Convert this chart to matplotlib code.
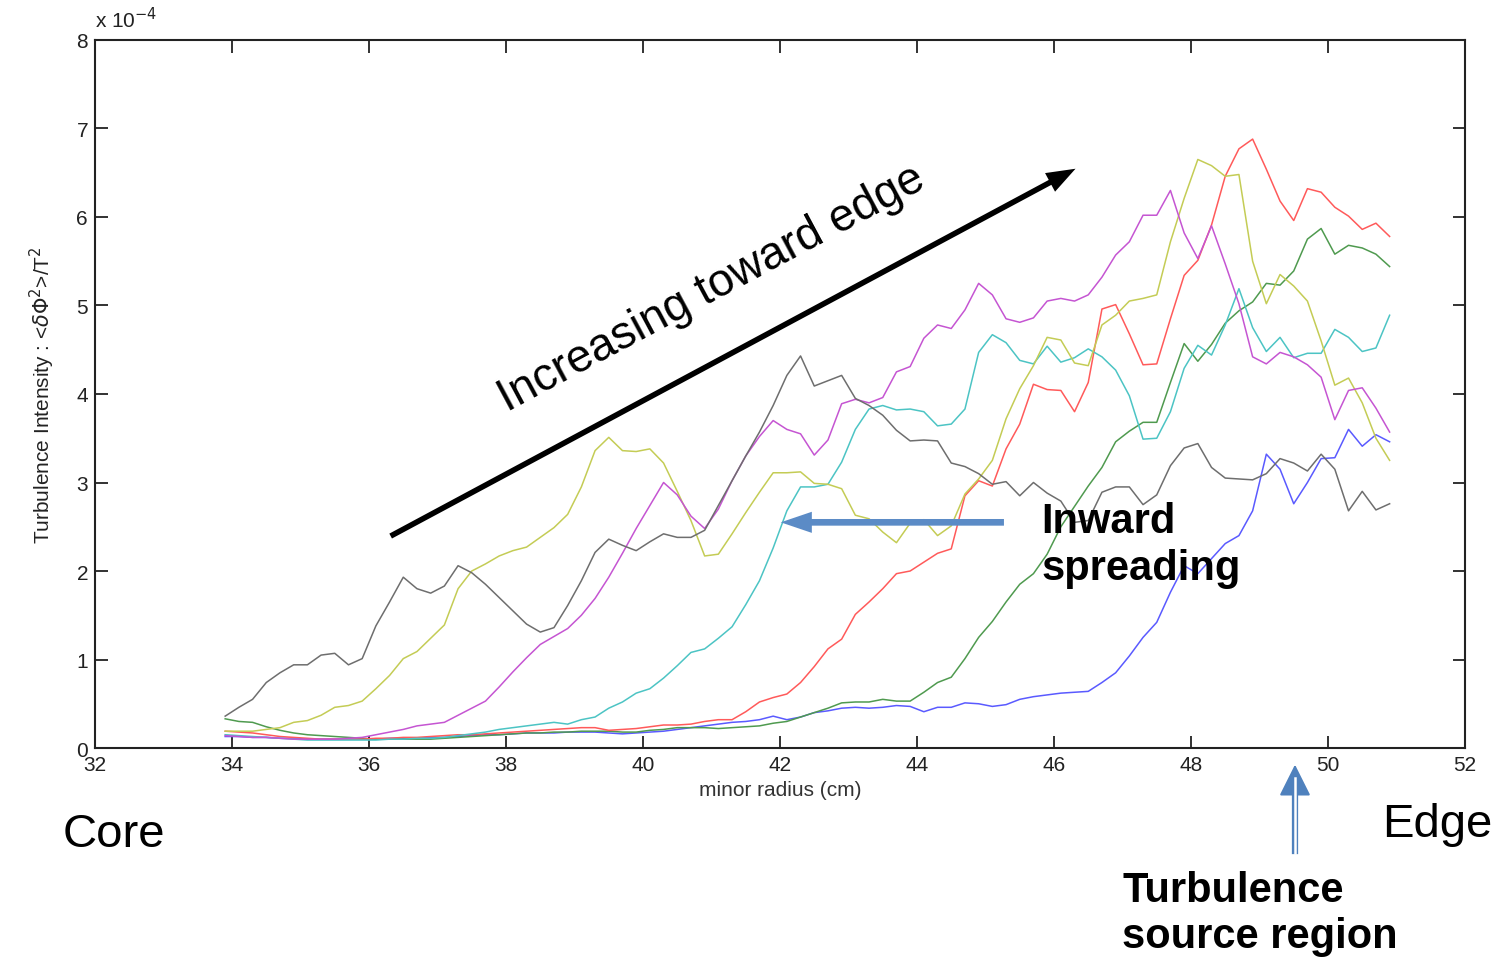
import numpy as np
import matplotlib
matplotlib.use("Agg")
import matplotlib.pyplot as plt
from matplotlib.patches import FancyArrowPatch
from matplotlib.lines import Line2D

# radial positions (cm), one sample every 0.2 cm
radius = np.linspace(33.9, 50.9, 86)

# turbulence intensity profiles (x 1e-4)
gray = [0.36, 0.46, 0.55, 0.74, 0.85, 0.94, 0.94, 1.05, 1.07, 0.94, 1.01, 1.38, 1.65, 1.93, 1.80, 1.75, 1.83, 2.06, 1.98,
        1.85, 1.70, 1.55, 1.40, 1.31, 1.36, 1.61, 1.89, 2.21, 2.36, 2.29, 2.23,
        2.33, 2.42, 2.38, 2.38, 2.46, 2.74, 3.02, 3.30, 3.57, 3.87, 4.21, 4.43, 4.09, 4.15, 4.21, 3.95, 3.87, 3.76, 3.59,
        3.47, 3.48, 3.47, 3.22, 3.18,
        3.10, 2.98, 3.01, 2.85, 3.00, 2.88, 2.79, 2.55, 2.57, 2.89, 2.95, 2.95, 2.75, 2.86, 3.19, 3.39, 3.44,
        3.17, 3.05, 3.04, 3.03, 3.10, 3.27, 3.22, 3.13, 3.32, 3.15, 2.68, 2.90, 2.69, 2.76]
yellow = [0.19, 0.19, 0.19, 0.21, 0.23, 0.29, 0.31, 0.37, 0.46, 0.48, 0.53, 0.67, 0.82, 1.01, 1.09, 1.24, 1.39, 1.80,
          2.00, 2.08, 2.17, 2.23, 2.27, 2.38, 2.49, 2.64, 2.95, 3.36, 3.51, 3.36, 3.35, 3.38, 3.22, 2.90, 2.57,
          2.17, 2.19, 2.42, 2.66, 2.89, 3.11, 3.11, 3.12, 2.99, 2.98, 2.93, 2.63, 2.59, 2.44, 2.32, 2.54, 2.58, 2.40,
          2.51, 2.87, 3.04, 3.25, 3.72, 4.06,
          4.32, 4.64, 4.61, 4.35, 4.32, 4.78, 4.89, 5.05, 5.08, 5.12, 5.72, 6.21, 6.65, 6.58, 6.46, 6.48,
          5.50, 5.02, 5.35, 5.22, 5.05, 4.60, 4.10, 4.18, 3.90, 3.50, 3.25]
magenta = [0.14, 0.13, 0.12, 0.12, 0.11, 0.10, 0.10, 0.10, 0.10, 0.11, 0.12, 0.15, 0.18, 0.21, 0.25, 0.27, 0.29, 0.37,
           0.45, 0.53, 0.69, 0.86, 1.02, 1.17, 1.26, 1.35, 1.50, 1.69, 1.93, 2.20, 2.48,
           2.74, 3.00, 2.86, 2.62, 2.48, 2.70, 3.02, 3.30, 3.52, 3.70, 3.60, 3.55, 3.31, 3.48, 3.89, 3.94, 3.90, 3.96,
           4.25, 4.31, 4.63, 4.78, 4.74, 4.95, 5.25, 5.12, 4.85, 4.81,
           4.86, 5.05, 5.08, 5.05, 5.12, 5.32, 5.57, 5.72, 6.02, 6.02, 6.30, 5.82, 5.53, 5.90, 5.47,
           5.02, 4.42, 4.34, 4.47, 4.42, 4.33, 4.19, 3.71, 4.04, 4.07, 3.84, 3.57]
cyan = [0.15, 0.14, 0.13, 0.12, 0.11, 0.10, 0.09, 0.09, 0.09, 0.09, 0.09, 0.09, 0.10, 0.10, 0.11, 0.11, 0.12, 0.14,
        0.16, 0.18,
        0.21, 0.23, 0.25, 0.27, 0.29, 0.27, 0.32, 0.35, 0.45, 0.52, 0.62, 0.67, 0.79, 0.93, 1.08, 1.12, 1.24, 1.37,
        1.62, 1.89, 2.26,
        2.68, 2.95, 2.95, 2.98, 3.23, 3.60, 3.83, 3.87, 3.82, 3.83, 3.80, 3.64, 3.66, 3.83, 4.47, 4.67, 4.58, 4.38,
        4.34, 4.54, 4.36, 4.41, 4.51,
        4.42, 4.27, 3.98, 3.49, 3.50, 3.80, 4.29, 4.55, 4.44, 4.78, 5.19, 4.75, 4.48, 4.64, 4.41, 4.46, 4.46, 4.73,
        4.64, 4.48, 4.52, 4.89]
red = [0.19, 0.18, 0.17, 0.15, 0.13, 0.12, 0.11, 0.10, 0.10, 0.10, 0.10, 0.11, 0.11, 0.12, 0.12, 0.13, 0.14, 0.15,
       0.15, 0.16, 0.17, 0.18, 0.19, 0.20, 0.21, 0.22, 0.23, 0.23, 0.20,
       0.21, 0.22, 0.24, 0.26, 0.26, 0.27, 0.30, 0.32, 0.32, 0.41, 0.52, 0.57, 0.61, 0.74, 0.92, 1.12, 1.23, 1.51,
       1.65, 1.80, 1.97, 2.00, 2.10, 2.20, 2.25,
       2.85, 3.02, 2.96, 3.38, 3.66, 4.11, 4.05, 4.04, 3.80, 4.13, 4.96, 5.01, 4.68, 4.33, 4.34, 4.85, 5.34, 5.51,
       5.91, 6.46,
       6.77, 6.88, 6.54, 6.18, 5.96, 6.32, 6.28, 6.11, 6.01, 5.86, 5.93, 5.78]
green = [0.33, 0.30, 0.29, 0.24, 0.20, 0.17, 0.15, 0.14, 0.13, 0.12, 0.11, 0.10, 0.10, 0.10, 0.10, 0.10, 0.11, 0.12,
         0.13, 0.14, 0.15, 0.16, 0.17, 0.17, 0.18, 0.18, 0.19, 0.19, 0.19, 0.18,
         0.18, 0.20, 0.21, 0.23, 0.23, 0.23, 0.22, 0.23, 0.24, 0.25, 0.28, 0.30, 0.35, 0.40, 0.45, 0.51, 0.52, 0.52,
         0.55, 0.53, 0.53, 0.63, 0.74, 0.80, 1.01, 1.25, 1.43, 1.65, 1.85,
         1.97, 2.19, 2.50, 2.73, 2.96, 3.17, 3.46, 3.58, 3.68, 3.68, 4.13, 4.57, 4.37, 4.56, 4.80,
         4.94, 5.04, 5.25, 5.23, 5.39, 5.75, 5.87, 5.58, 5.68, 5.65, 5.58, 5.44]
blue = [0.13, 0.13, 0.12, 0.12, 0.11, 0.11, 0.10, 0.10, 0.10, 0.10, 0.10, 0.10, 0.11, 0.11, 0.11, 0.12, 0.12, 0.13,
        0.14, 0.15, 0.15, 0.16, 0.17, 0.17, 0.17, 0.18, 0.18, 0.18, 0.17, 0.16, 0.17,
        0.18, 0.19, 0.21, 0.23, 0.25, 0.27, 0.29, 0.30, 0.32, 0.36, 0.32, 0.35, 0.40, 0.42, 0.45, 0.46, 0.45, 0.46,
        0.48, 0.47, 0.41, 0.46, 0.46, 0.51, 0.50, 0.47, 0.49, 0.55, 0.58,
        0.60, 0.62, 0.63, 0.64, 0.74, 0.85, 1.04, 1.25, 1.42, 1.76, 2.06, 1.97, 2.14, 2.31, 2.40, 2.68, 3.32, 3.15,
        2.76, 3.00, 3.27, 3.28, 3.60, 3.41, 3.54, 3.46]

profiles = [
    (blue, "#5a5aff"),
    (green, "#4f9a4f"),
    (red, "#ff5a5a"),
    (cyan, "#4cc4c4"),
    (yellow, "#c4cc55"),
    (magenta, "#c555d2"),
    (gray, "#6e6e6e"),
]

xticks = [32, 34, 36, 38, 40, 42, 44, 46, 48, 50, 52]
yticks = [0, 1, 2, 3, 4, 5, 6, 7, 8]

plt.rcParams["font.family"] = ["Liberation Sans", "DejaVu Sans"]

fig = plt.figure(figsize=(14.99, 9.62), dpi=100)
ax = fig.add_axes([0.0634, 0.2214, 0.9139, 0.736])

for vals, col in profiles:
    ax.plot(radius, vals, color=col, lw=1.1)

ax.set_xlim(32, 52)
ax.set_ylim(0, 8)
ax.set_xticks(xticks)
ax.set_yticks(yticks)
ax.tick_params(direction="in", length=9, width=1.3, top=True, right=True,
               labelsize=15, colors="#222222", pad=5)
for s in ax.spines.values():
    s.set_linewidth(1.5)
    s.set_color("#222222")

ax.set_xlabel("minor radius (cm)", fontsize=15, color="#333333", labelpad=4)
ax.set_ylabel(r"Turbulence Intensity : <$\delta\Phi^2$>/T$^2$", fontsize=15,
              color="#222222", labelpad=14)
ax.text(0.0, 1.012, r"x 10$^{-4}$", transform=ax.transAxes, fontsize=15,
        color="#222222", ha="left", va="bottom")

# black "increasing toward edge" arrow
ax.annotate("", xy=(46.35, 6.56), xytext=(36.28, 2.38),
            arrowprops=dict(arrowstyle="simple,head_length=1.3,head_width=0.95,tail_width=0.25",
                            color="black", lw=0, mutation_scale=16))
ax.text(41.0, 5.2, "Increasing toward edge", rotation=28.2, rotation_mode="anchor",
        ha="center", va="center", fontsize=33)

# inward spreading arrow
ax.annotate("", xy=(41.97, 2.55), xytext=(45.31, 2.55),
            arrowprops=dict(arrowstyle="simple,head_length=1.4,head_width=0.95,tail_width=0.3",
                            color="#5b8bc6", lw=0, mutation_scale=16))
ax.text(45.82, 2.3, "Inward\nspreading", fontsize=30, fontweight="bold",
        ha="left", va="center", linespacing=1.2)

fig.text(0.042, 0.132, "Core", fontsize=34, ha="left", va="center")
fig.text(0.922, 0.142, "Edge", fontsize=34, ha="left", va="center")
fig.text(0.7485, 0.05, "Turbulence\nsource region", fontsize=30, fontweight="bold",
         ha="left", va="center", linespacing=1.2)

# double-line arrow pointing at the source region
xa, y0, y1 = 0.8639, 0.114, 0.18
fig.add_artist(Line2D([xa, xa], [y0, y1], transform=fig.transFigure, color="#4f81bd", lw=4.5))
fig.add_artist(Line2D([xa, xa], [y0 - 0.002, y1 + 0.01], transform=fig.transFigure, color="white", lw=1.8))
fig.add_artist(FancyArrowPatch((xa, 0.17), (xa, 0.207), transform=fig.transFigure,
                               arrowstyle="-|>,head_length=0.9,head_width=0.45",
                               mutation_scale=22, color="#4f81bd", lw=1.5))

fig.savefig("out.png", dpi=100, facecolor="white")
